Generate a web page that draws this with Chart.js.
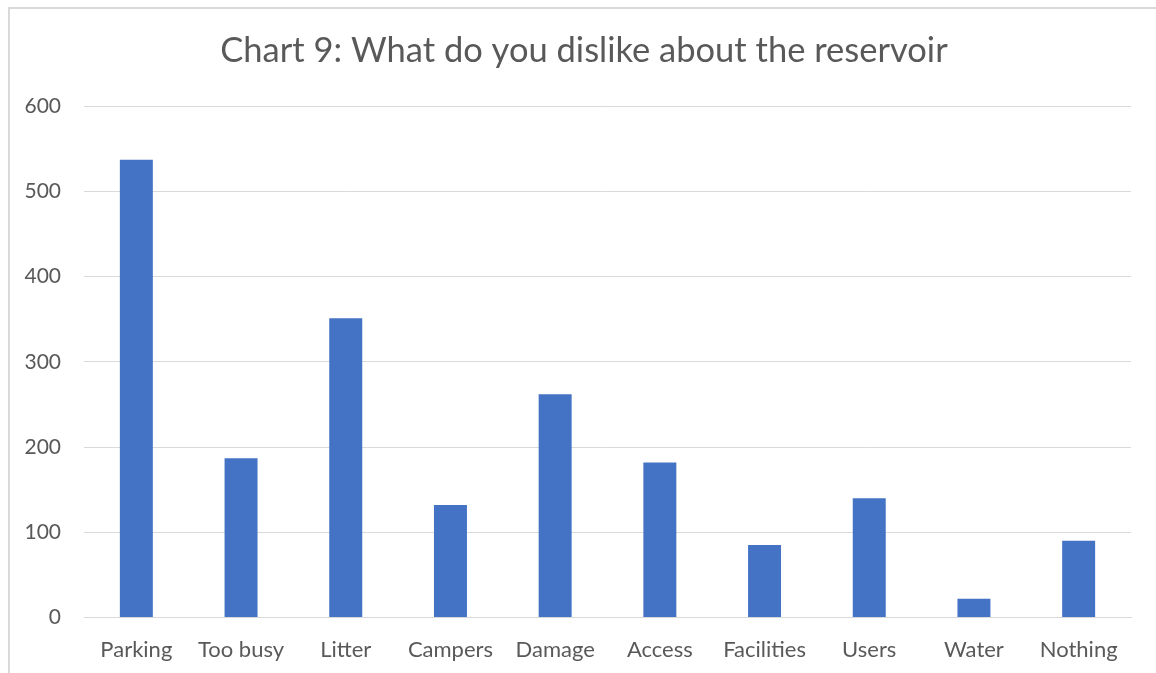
<!DOCTYPE html>
<html>
<head>
<meta charset="utf-8">
<script src="https://cdn.jsdelivr.net/npm/chart.js@4.4.0/dist/chart.umd.min.js"></script>
<style>
  html, body { margin: 0; padding: 0; background: #fff; }
  #wrap { position: relative; width: 1156px; height: 673px; overflow: hidden; }
  #frame { position: absolute; left: 8px; top: 7px; width: 1200px; height: 700px;
           border-left: 2px solid #d9d9d9; border-top: 2px solid #d9d9d9; }
  #c { position: absolute; left: 0; top: 0; }
</style>
</head>
<body>
<div id="wrap">
  <div id="frame"></div>
  <canvas id="c" width="1156" height="673"></canvas>
</div>
<script>
// data kategori dan nilai
const categories = ['Parking', 'Too busy', 'Litter', 'Campers', 'Damage', 'Access', 'Facilities', 'Users', 'Water', 'Nothing'];
const counts = [537, 187, 351, 132, 262, 182, 85, 140, 22, 90];
const yTicks = [0, 100, 200, 300, 400, 500, 600];
const chartTitle = 'Chart 9: What do you dislike about the reservoir';

const textColor = '#595959';
const gridColor = '#d9d9d9';
const fontFamily = 'Lato, "Open Sans", sans-serif';

// judul digambar sendiri supaya bisa ditengahkan di bingkai, bukan di area chart
const titlePlugin = {
    id: 'frameTitle',
    afterDraw(chart) {
        const c = chart.ctx;
        c.save();
        c.fillStyle = textColor;
        c.font = '34.5px ' + fontFamily;
        c.textAlign = 'center';
        c.textBaseline = 'middle';
        c.fillText(chartTitle, 584, 51);
        c.restore();
    }
};

const ctx = document.getElementById('c').getContext('2d');

new Chart(ctx, {
    type: 'bar',
    data: {
        labels: categories,
        datasets: [{
            label: 'Chart 9',
            data: counts,
            backgroundColor: '#4472c4',
            categoryPercentage: 1,
            barPercentage: 0.315
        }]
    },
    plugins: [titlePlugin],
    options: {
        responsive: false,
        animation: false,
        layout: {
            padding: { left: 0, right: 25, top: 106, bottom: -9 }
        },
        plugins: {
            legend: { display: false },
            tooltip: { enabled: false },
            title: { display: false }
        },
        scales: {
            x: {
                grid: { display: false, drawTicks: false },
                border: { color: gridColor, width: 1 },
                ticks: {
                    color: textColor,
                    padding: 19,
                    maxRotation: 0,
                    font: { family: fontFamily, size: 22 }
                }
            },
            y: {
                min: 0,
                max: 600,
                afterFit: scale => { scale.width = 84; },
                afterBuildTicks: scale => { scale.ticks = yTicks.map(v => ({ value: v })); },
                grid: { color: gridColor, lineWidth: 1, drawTicks: false },
                border: { display: false },
                ticks: {
                    color: textColor,
                    padding: 23,
                    font: { family: fontFamily, size: 21 }
                }
            }
        }
    }
});
</script>
</body>
</html>
